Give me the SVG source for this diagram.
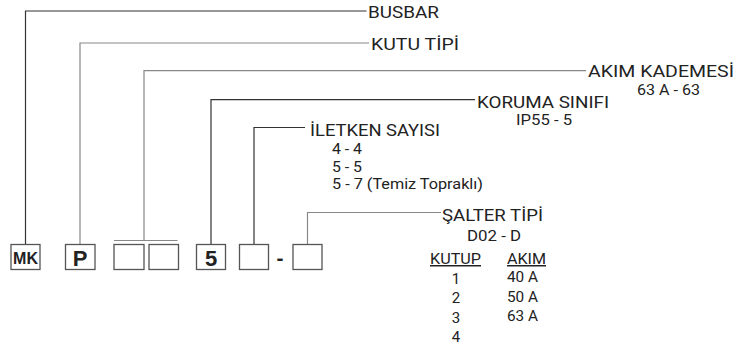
<svg xmlns="http://www.w3.org/2000/svg" width="739" height="349" viewBox="0 0 739 349">
<style>
.t{font-family:Roboto,"Liberation Sans",sans-serif;fill:#222;}
.h{font-size:17px;}
.s{font-size:15px;}
.m{font-size:14px;}
.u{text-decoration:underline;}
.b{font-family:"Liberation Sans",Arial,sans-serif;font-weight:bold;fill:#222;text-anchor:middle;}
.box{fill:#fff;stroke:#555;stroke-width:1.3;}
.dk{fill:none;stroke:#333;stroke-width:1.2;}
.gy{fill:none;stroke:#888;stroke-width:1.2;}
</style>
<rect width="739" height="349" fill="#fff"/>
<g id="connectors">
<path class="dk" d="M25.5,244.5 V11 H366.5"/>
<path class="gy" d="M80,244.5 V43 H369"/>
<path class="gy" d="M144,240.5 V70.7 H586"/>
<path class="gy" d="M114,240.5 H177.5"/>
<path class="dk" d="M211,244.5 V99.7 H475"/>
<path class="dk" d="M254,244.5 V127.5 H305"/>
<path class="gy" d="M307.5,244.5 V212.5 H441"/>
</g>
<g id="node-mk"><rect class="box" x="11" y="244.5" width="29" height="25"/><text class="b" x="25.5" y="264" font-size="16">MK</text></g>
<g id="node-p"><rect class="box" x="65.5" y="244.5" width="29.5" height="25"/><text class="b" x="80.2" y="265.5" font-size="22">P</text></g>
<g id="node-akim1"><rect class="box" x="114" y="244.5" width="30" height="25"/></g>
<g id="node-akim2"><rect class="box" x="149" y="244.5" width="29.5" height="25"/></g>
<g id="node-5"><rect class="box" x="196.5" y="244.5" width="29" height="25"/><text class="b" x="211" y="265.5" font-size="22">5</text></g>
<g id="node-iletken"><rect class="box" x="239.5" y="244.5" width="29" height="25"/></g>
<g id="node-dash"><text class="b" x="280" y="264.5" font-size="21">-</text></g>
<g id="node-salter"><rect class="box" x="293" y="244.5" width="29" height="25"/></g>
<g id="label-busbar"><text class="t h" x="368" y="18" textLength="71" lengthAdjust="spacingAndGlyphs">BUSBAR</text></g>
<g id="label-kutu"><text class="t h" x="371" y="49.5" textLength="88" lengthAdjust="spacingAndGlyphs">KUTU TİPİ</text></g>
<g id="label-akim">
<text class="t h" x="588" y="77" textLength="146" lengthAdjust="spacingAndGlyphs">AKIM KADEMESİ</text>
<text class="t m" x="637" y="94.5" textLength="63" lengthAdjust="spacingAndGlyphs">63 A - 63</text>
</g>
<g id="label-koruma">
<text class="t h" x="477" y="108" textLength="132" lengthAdjust="spacingAndGlyphs">KORUMA SINIFI</text>
<text class="t m" x="516" y="124.5" textLength="56" lengthAdjust="spacingAndGlyphs">IP55 - 5</text>
</g>
<g id="label-iletken">
<text class="t h" x="310" y="136" textLength="130" lengthAdjust="spacingAndGlyphs">İLETKEN SAYISI</text>
<text class="t s" x="332" y="154" textLength="30" lengthAdjust="spacingAndGlyphs">4 - 4</text>
<text class="t s" x="332" y="171.5" textLength="30" lengthAdjust="spacingAndGlyphs">5 - 5</text>
<text class="t s" x="332" y="189" textLength="151" lengthAdjust="spacingAndGlyphs">5 - 7 (Temiz Topraklı)</text>
</g>
<g id="label-salter">
<text class="t h" x="442" y="220.5" textLength="101" lengthAdjust="spacingAndGlyphs">ŞALTER TİPİ</text>
<text class="t s" x="467" y="241" textLength="54" lengthAdjust="spacingAndGlyphs">D02 - D</text>
<text class="t s u" x="430" y="264" textLength="51" lengthAdjust="spacingAndGlyphs">KUTUP</text>
<text class="t s u" x="507" y="264" textLength="39" lengthAdjust="spacingAndGlyphs">AKIM</text>
<text class="t s" x="456" y="284" text-anchor="middle">1</text>
<text class="t s" x="456" y="303" text-anchor="middle">2</text>
<text class="t s" x="456" y="322.5" text-anchor="middle">3</text>
<text class="t s" x="456" y="341.5" text-anchor="middle">4</text>
<text class="t s" x="507" y="281.5" textLength="31" lengthAdjust="spacingAndGlyphs">40 A</text>
<text class="t s" x="507" y="301.5" textLength="31" lengthAdjust="spacingAndGlyphs">50 A</text>
<text class="t s" x="507" y="320.5" textLength="31" lengthAdjust="spacingAndGlyphs">63 A</text>
</g>
</svg>
